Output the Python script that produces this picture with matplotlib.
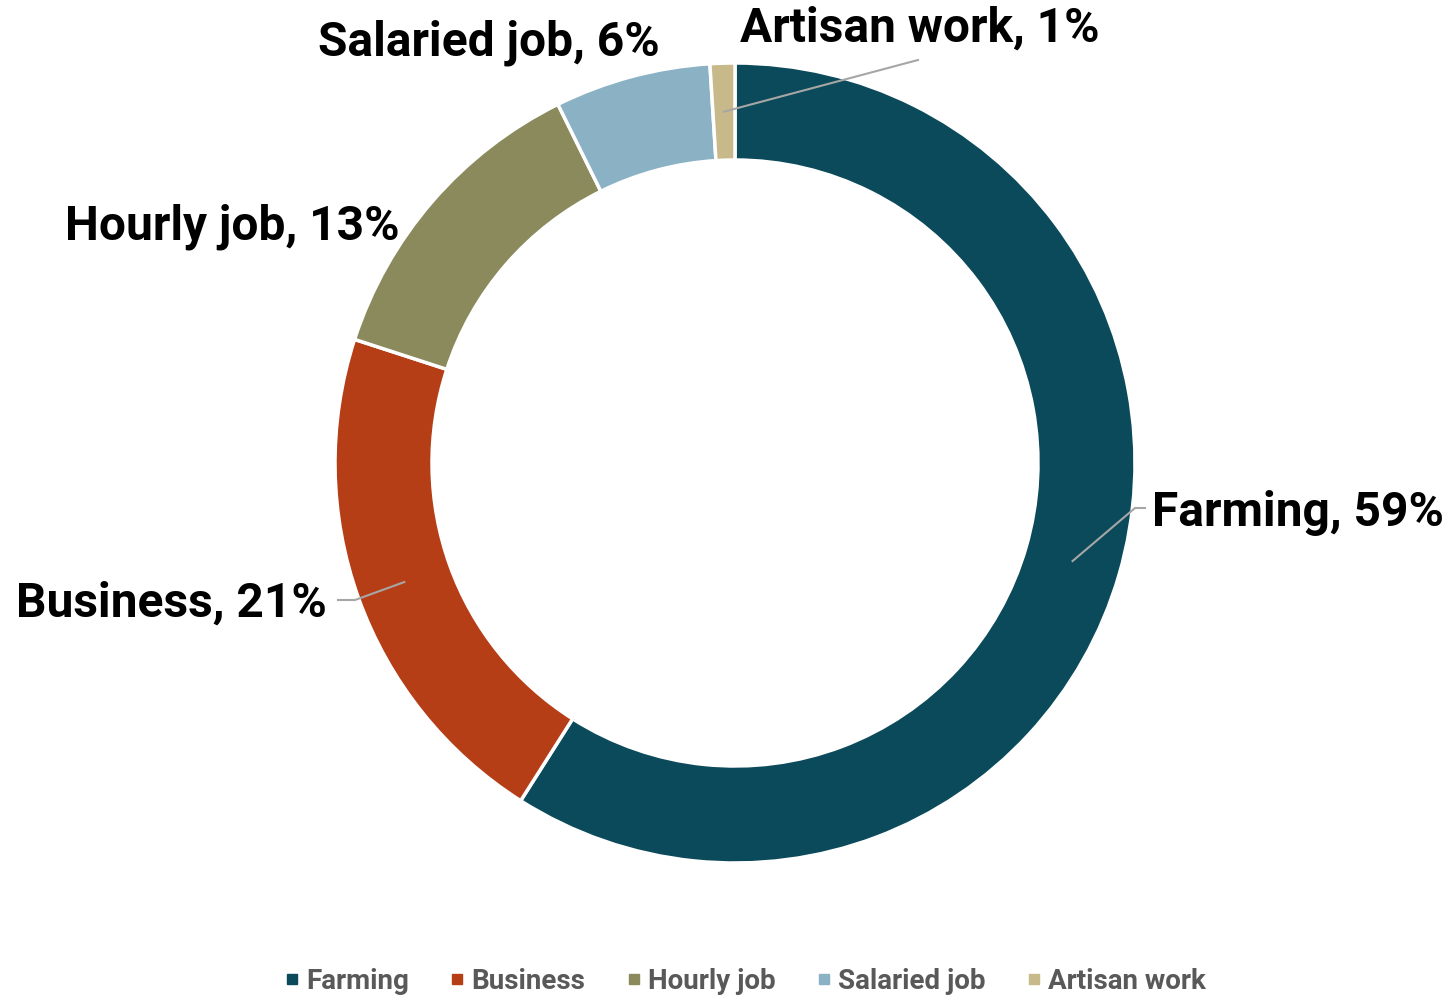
import matplotlib
matplotlib.use('Agg')
import matplotlib.pyplot as plt
import numpy as np
from matplotlib.lines import Line2D

categories = ['Farming', 'Business', 'Hourly job', 'Salaried job', 'Artisan work']
shares = [59.0, 21.0, 12.7, 6.3, 1.0]
colors = ['#0B4A5A', '#B63E17', '#8A8A5C', '#8AB2C4', '#C8B98A']

plt.rcParams['font.family'] = ['Roboto', 'DejaVu Sans']

W, H = 1453, 997
cx, cy = 735, 463
R, ring = 400, 97

fig = plt.figure(figsize=(W / 100, H / 100), dpi=100)
ax = fig.add_axes([0, 0, 1, 1])

wedges, _ = ax.pie(shares, radius=R, startangle=90, counterclock=False,
                   colors=colors,
                   wedgeprops=dict(width=ring, edgecolor='white', linewidth=2.5))

ax.set_xlim(-cx, W - cx)
ax.set_ylim(-(H - cy), cy)
ax.set_aspect('equal')
ax.axis('off')

gray = '#A6A6A6'
rmid = R - ring / 2


def mid_point(w):
    ang = np.deg2rad((w.theta1 + w.theta2) / 2)
    return rmid * np.cos(ang), rmid * np.sin(ang)


label_fs = 34.5
labels = [f'{c}, {s:.0f}%' for c, s in zip(categories, shares)]

# Farming
x0, y0 = mid_point(wedges[0])
ax.plot([x0, 400, 410], [y0, -45, -45], color=gray, lw=1.5)
ax.text(417, -50, labels[0], fontsize=label_fs, fontweight='bold',
        ha='left', va='center')

# Business
x0, y0 = mid_point(wedges[1])
ax.plot([x0, -380, -397], [y0, -137, -137], color=gray, lw=1.5)
ax.text(-408, -141, labels[1], fontsize=label_fs, fontweight='bold',
        ha='right', va='center')

# Hourly job
ax.text(-335, 236, labels[2], fontsize=label_fs, fontweight='bold',
        ha='right', va='center')

# Salaried job
ax.text(-75, 420, labels[3], fontsize=label_fs, fontweight='bold',
        ha='right', va='center')

# Artisan work
x0, y0 = mid_point(wedges[4])
ax.plot([x0, 183], [y0, 403], color=gray, lw=1.5)
ax.text(5, 434, labels[4], fontsize=label_fs, fontweight='bold',
        ha='left', va='center')

handles = [Line2D([], [], marker='s', linestyle='none', markersize=7,
                  markerfacecolor=c, markeredgecolor=c) for c in colors]
leg = fig.legend(handles, categories, loc='center', bbox_to_anchor=(0.512, 0.016),
                 ncol=5, frameon=False, fontsize=20, handletextpad=0.15,
                 columnspacing=1.4, handlelength=0.7)
for t in leg.get_texts():
    t.set_color('#595959')
    t.set_fontweight('bold')

fig.savefig('out.png', dpi=100)
